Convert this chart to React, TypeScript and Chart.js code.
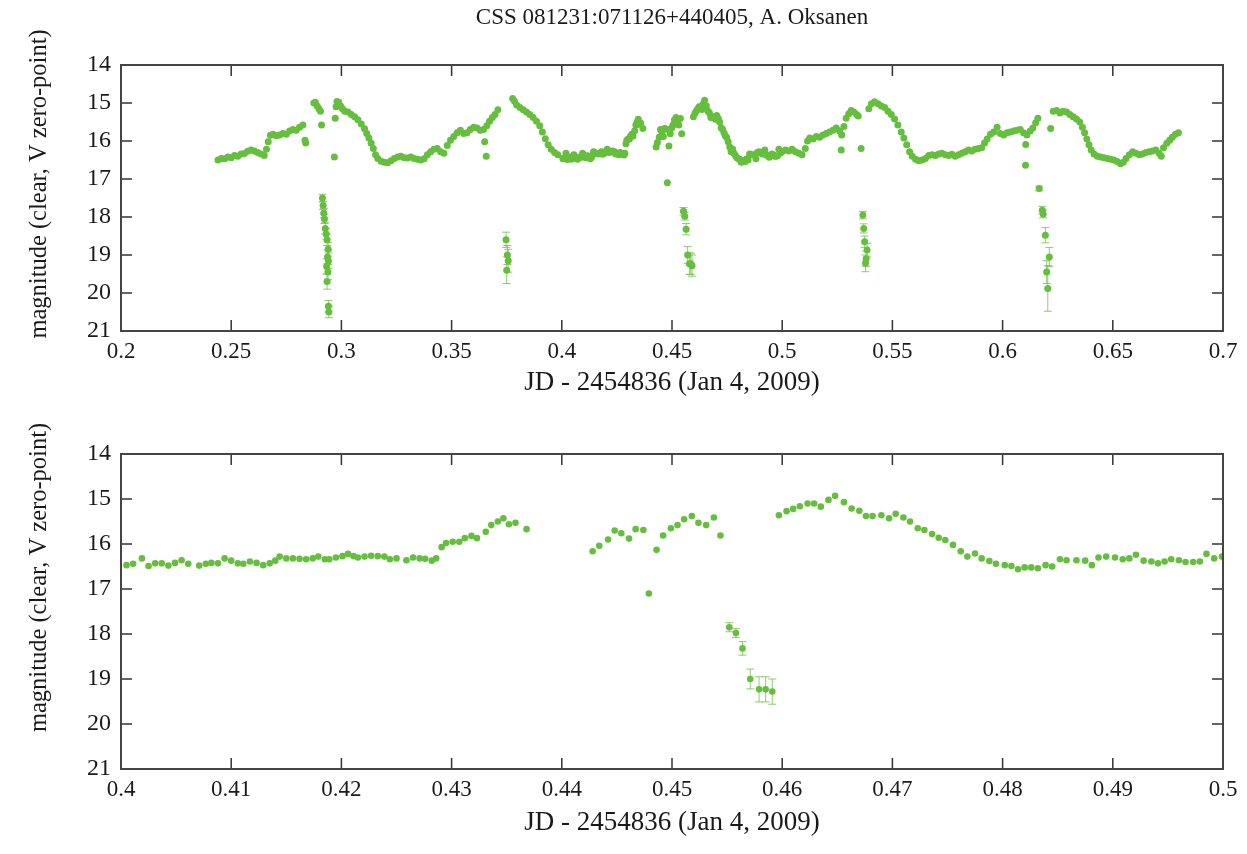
import React, { useEffect, useRef } from 'react';
import { Chart, registerables } from 'chart.js';

Chart.register(...registerables);

const TITLE = 'CSS 081231:071126+440405, A. Oksanen';
const X_TITLE = 'JD - 2454836 (Jan 4, 2009)';
const Y_TITLE = 'magnitude (clear, V zero-point)';

// [JD - 2454836, magnitude]  (top panel, before 0.40)
const topEarly: number[][] = [
  [0.2440,16.50],[0.2455,16.46],[0.2470,16.47],[0.2485,16.42],[0.2500,16.44],[0.2515,16.38],[0.2530,16.40],[0.2545,16.34],
  [0.2560,16.33],[0.2575,16.27],[0.2590,16.24],[0.2605,16.26],[0.2620,16.30],[0.2635,16.34],[0.2650,16.38],[0.2660,16.22],
  [0.2668,16.02],[0.2678,15.85],[0.2690,15.82],[0.2705,15.86],[0.2720,15.84],[0.2735,15.80],[0.2750,15.82],[0.2765,15.74],
  [0.2780,15.70],[0.2795,15.72],[0.2810,15.64],[0.2825,15.58],[0.2835,15.98],[0.2838,16.05],[0.2875,15.00],[0.2882,14.98],
  [0.2890,15.08],[0.2898,15.15],[0.2905,15.22],[0.2910,15.58],[0.2968,16.42],[0.2972,15.40],[0.2976,15.10],[0.2980,14.96],
  [0.2988,14.98],[0.2996,15.08],[0.3005,15.15],[0.3015,15.22],[0.3030,15.24],[0.3045,15.30],[0.3060,15.36],[0.3075,15.44],
  [0.3090,15.55],[0.3105,15.68],[0.3115,15.80],[0.3125,15.92],[0.3135,16.06],[0.3145,16.20],[0.3155,16.36],[0.3165,16.46],
  [0.3180,16.53],[0.3195,16.56],[0.3210,16.57],[0.3225,16.52],[0.3240,16.46],[0.3255,16.42],[0.3270,16.40],[0.3285,16.44],
  [0.3300,16.45],[0.3315,16.42],[0.3330,16.46],[0.3345,16.48],[0.3360,16.50],[0.3375,16.47],[0.3390,16.36],[0.3405,16.28],
  [0.3420,16.22],[0.3435,16.20],[0.3450,16.28],[0.3465,16.32],[0.3480,16.12],[0.3495,15.98],[0.3510,15.88],[0.3525,15.78],
  [0.3540,15.72],[0.3555,15.80],[0.3570,15.78],[0.3585,15.70],[0.3600,15.64],[0.3615,15.66],[0.3630,15.72],[0.3645,15.70],
  [0.3650,16.02],[0.3657,16.40],[0.3660,15.60],[0.3672,15.48],[0.3685,15.38],[0.3697,15.30],[0.3710,15.18],[0.3777,14.88],
  [0.3785,14.95],[0.3795,15.05],[0.3810,15.12],[0.3825,15.18],[0.3840,15.24],[0.3855,15.30],[0.3870,15.38],[0.3885,15.48],
  [0.3900,15.60],[0.3912,15.76],[0.3925,15.94],[0.3938,16.10],[0.3952,16.22],[0.3967,16.30],[0.3982,16.36],
];

// [JD - 2454836, magnitude]  (0.40 - 0.50, shown in both panels)
const zoomMain: number[][] = [
  [0.4005,16.47],[0.4011,16.44],[0.4019,16.32],[0.4025,16.49],[0.4031,16.43],[0.4037,16.43],[0.4043,16.48],[0.4049,16.42],
  [0.4055,16.36],[0.4061,16.44],[0.4071,16.48],[0.4077,16.44],[0.4082,16.42],[0.4088,16.43],[0.4094,16.32],[0.4100,16.37],
  [0.4106,16.43],[0.4111,16.44],[0.4117,16.39],[0.4123,16.42],[0.4129,16.47],[0.4135,16.43],[0.4140,16.37],[0.4144,16.28],
  [0.4150,16.32],[0.4156,16.32],[0.4162,16.33],[0.4168,16.34],[0.4174,16.32],[0.4179,16.28],[0.4185,16.34],[0.4189,16.34],
  [0.4195,16.30],[0.4201,16.27],[0.4206,16.22],[0.4211,16.27],[0.4215,16.30],[0.4221,16.28],[0.4227,16.26],[0.4233,16.27],
  [0.4239,16.28],[0.4244,16.34],[0.4250,16.32],[0.4259,16.36],[0.4265,16.30],[0.4271,16.32],[0.4276,16.33],[0.4282,16.37],
  [0.4286,16.32],[0.4291,16.07],[0.4295,15.98],[0.4301,15.95],[0.4307,15.95],[0.4312,15.87],[0.4318,15.82],[0.4323,15.87],
  [0.4331,15.73],[0.4336,15.58],[0.4342,15.50],[0.4347,15.43],[0.4352,15.56],[0.4358,15.53],[0.4368,15.67],
  [0.4428,16.16],[0.4434,16.04],[0.4442,15.90],[0.4448,15.70],[0.4454,15.76],[0.4461,15.88],[0.4467,15.67],[0.4474,15.69],
  [0.4479,17.10],[0.4486,16.13],[0.4492,15.81],[0.4499,15.65],[0.4505,15.58],[0.4511,15.45],[0.4518,15.38],[0.4524,15.53],
  [0.4531,15.58],[0.4538,15.41],[0.4544,15.81],
  [0.4597,15.36],[0.4604,15.27],[0.4610,15.22],[0.4616,15.16],[0.4623,15.10],[0.4629,15.10],[0.4635,15.17],[0.4642,15.02],
  [0.4648,14.93],[0.4656,15.07],[0.4663,15.21],[0.4670,15.26],[0.4676,15.38],[0.4682,15.38],[0.4690,15.36],[0.4697,15.43],
  [0.4703,15.33],[0.4710,15.41],[0.4716,15.50],[0.4723,15.65],[0.4729,15.69],[0.4736,15.78],[0.4742,15.86],[0.4748,15.91],
  [0.4755,16.02],[0.4762,16.16],[0.4768,16.28],[0.4775,16.21],[0.4781,16.32],[0.4788,16.38],[0.4794,16.44],[0.4802,16.47],
  [0.4808,16.49],[0.4814,16.56],[0.4820,16.52],[0.4826,16.52],[0.4832,16.54],[0.4839,16.47],[0.4845,16.50],[0.4852,16.34],
  [0.4858,16.36],[0.4867,16.36],[0.4875,16.37],[0.4881,16.47],[0.4887,16.30],[0.4894,16.28],[0.4902,16.30],[0.4909,16.34],
  [0.4915,16.32],[0.4921,16.24],[0.4928,16.37],[0.4935,16.39],[0.4941,16.43],[0.4947,16.39],[0.4953,16.34],[0.4960,16.36],
  [0.4966,16.40],[0.4973,16.40],[0.4979,16.39],[0.4985,16.22],[0.4992,16.32],[0.4999,16.28],
];

// [JD - 2454836, magnitude]  (top panel, after 0.50)
const topLate: number[][] = [
  [0.5015,16.24],[0.5030,16.26],[0.5045,16.22],[0.5060,16.28],[0.5075,16.32],[0.5090,16.36],[0.5105,16.20],[0.5115,16.00],
  [0.5125,15.92],[0.5140,15.95],[0.5155,15.88],[0.5170,15.90],[0.5185,15.84],[0.5200,15.80],[0.5215,15.76],[0.5230,15.72],
  [0.5245,15.66],[0.5260,15.74],[0.5270,15.84],[0.5268,16.24],[0.5280,15.62],[0.5290,15.40],[0.5302,15.28],[0.5313,15.20],
  [0.5325,15.24],[0.5338,15.30],[0.5345,15.34],[0.5358,16.20],[0.5393,15.15],[0.5405,15.02],[0.5419,14.97],[0.5435,15.02],
  [0.5450,15.08],[0.5465,15.12],[0.5480,15.22],[0.5495,15.30],[0.5510,15.42],[0.5525,15.58],[0.5540,15.76],[0.5552,15.92],
  [0.5565,16.10],[0.5578,16.28],[0.5590,16.40],[0.5605,16.48],[0.5620,16.52],[0.5635,16.50],[0.5650,16.46],[0.5665,16.38],
  [0.5680,16.36],[0.5695,16.38],[0.5710,16.34],[0.5725,16.32],[0.5740,16.36],[0.5755,16.38],[0.5770,16.35],[0.5785,16.40],
  [0.5800,16.36],[0.5815,16.32],[0.5830,16.28],[0.5845,16.24],[0.5860,16.26],[0.5875,16.22],[0.5890,16.20],[0.5905,16.18],
  [0.5918,16.05],[0.5930,15.95],[0.5945,15.82],[0.5960,15.76],[0.5975,15.64],[0.5990,15.80],[0.6005,15.84],[0.6020,15.78],
  [0.6035,15.76],[0.6050,15.74],[0.6065,15.72],[0.6080,15.70],[0.6095,15.78],[0.6105,16.09],[0.6104,16.64],[0.6110,15.84],
  [0.6125,15.74],[0.6137,15.66],[0.6150,15.52],[0.6160,15.40],[0.6218,15.67],[0.6230,15.22],[0.6245,15.20],[0.6260,15.26],
  [0.6275,15.22],[0.6290,15.24],[0.6305,15.30],[0.6320,15.36],[0.6335,15.42],[0.6350,15.50],[0.6362,15.64],[0.6372,15.78],
  [0.6382,15.95],[0.6392,16.10],[0.6402,16.24],[0.6415,16.34],[0.6430,16.40],[0.6445,16.42],[0.6460,16.44],[0.6475,16.46],
  [0.6490,16.48],[0.6505,16.50],[0.6520,16.54],[0.6535,16.60],[0.6548,16.56],[0.6560,16.46],[0.6575,16.36],[0.6590,16.28],
  [0.6605,16.32],[0.6620,16.36],[0.6635,16.34],[0.6650,16.30],[0.6665,16.28],[0.6680,16.26],[0.6695,16.24],[0.6710,16.32],
  [0.6720,16.40],[0.6730,16.18],[0.6745,16.06],[0.6758,15.98],[0.6770,15.90],[0.6784,15.82],[0.6798,15.78],
];

// eclipse points: [JD - 2454836, magnitude, error]
const dip1: number[][] = [
  [0.2914,17.50,0.10],[0.2917,17.70,0.10],[0.2920,17.90,0.12],[0.2923,18.05,0.12],[0.2927,18.30,0.15],[0.2931,18.45,0.15],
  [0.2935,18.60,0.15],[0.2940,18.85,0.18],[0.2937,19.05,0.18],[0.2941,19.15,0.20],[0.2933,19.30,0.20],[0.2939,19.45,0.20],
  [0.2935,19.70,0.20],[0.2941,20.35,0.15],[0.2943,20.50,0.15],
];
const dip2: number[][] = [
  [0.3747,18.60,0.20],[0.3753,19.00,0.25],[0.3757,19.15,0.30],[0.3750,19.40,0.35],
];
const zoomDip: number[][] = [
  [0.4552,17.85,0.10],[0.4558,17.98,0.10],[0.4564,18.32,0.15],[0.4571,19.00,0.22],[0.4579,19.23,0.28],[0.4585,19.23,0.28],
  [0.4591,19.28,0.28],
];
const dip4: number[][] = [
  [0.5366,17.95,0.10],[0.5370,18.30,0.12],[0.5374,18.65,0.15],[0.5385,18.87,0.18],[0.5381,19.10,0.20],[0.5378,19.22,0.22],
];
const dip5: number[][] = [
  [0.6166,17.25,0.06],[0.6180,17.82,0.10],[0.6184,17.92,0.10],[0.6194,18.48,0.20],[0.6212,19.05,0.25],[0.6200,19.45,0.30],
  [0.6205,19.88,0.60],
];

const topXTicks = [0.2, 0.25, 0.3, 0.35, 0.4, 0.45, 0.5, 0.55, 0.6, 0.65, 0.7];
const topXLabels = ['0.2', '0.25', '0.3', '0.35', '0.4', '0.45', '0.5', '0.55', '0.6', '0.65', '0.7'];
const zoomXTicks = [0.4, 0.41, 0.42, 0.43, 0.44, 0.45, 0.46, 0.47, 0.48, 0.49, 0.5];
const zoomXLabels = ['0.4', '0.41', '0.42', '0.43', '0.44', '0.45', '0.46', '0.47', '0.48', '0.49', '0.5'];
const magTicks = [14, 15, 16, 17, 18, 19, 20, 21];
const magLabels = ['14', '15', '16', '17', '18', '19', '20', '21'];

const GREEN = 'rgb(102,190,62)';
const ERR_GREEN = 'rgba(102,190,62,0.75)';
const FONT = "'Liberation Serif', 'DejaVu Serif', serif";
const TEXT = '#1a1a1a';

const framePlugin = {
  id: 'frameTicks',
  afterDraw(chart: any) {
    const { ctx, chartArea: a, scales } = chart;
    ctx.save();
    ctx.strokeStyle = '#333';
    ctx.lineWidth = 1.5;
    const L = 11;
    const seg = (x1: number, y1: number, x2: number, y2: number) => {
      ctx.beginPath();
      ctx.moveTo(x1, y1);
      ctx.lineTo(x2, y2);
      ctx.stroke();
    };
    scales.x.ticks.forEach((t: any) => {
      const px = scales.x.getPixelForValue(t.value);
      if (px <= a.left + 1 || px >= a.right - 1) return;
      seg(px, a.bottom, px, a.bottom - L);
      seg(px, a.top, px, a.top + L);
    });
    scales.y.ticks.forEach((t: any) => {
      const py = scales.y.getPixelForValue(t.value);
      if (py <= a.top + 1 || py >= a.bottom - 1) return;
      seg(a.left, py, a.left + L, py);
      seg(a.right, py, a.right - L, py);
    });
    ctx.strokeStyle = '#444';
    ctx.lineWidth = 2;
    ctx.strokeRect(a.left, a.top, a.right - a.left, a.bottom - a.top);
    ctx.restore();
  },
};

// vertical axis title, drawn on the y scale's own area
const yTitlePlugin = {
  id: 'yTitle',
  afterDraw(chart: any, _args: any, opts: any) {
    const { ctx, chartArea: a } = chart;
    const cy = (a.top + a.bottom) / 2 + (opts.shift || 0);
    ctx.save();
    ctx.translate(opts.x, cy);
    ctx.rotate(-Math.PI / 2);
    ctx.fillStyle = TEXT;
    ctx.font = `${opts.size}px ${FONT}`;
    ctx.textAlign = 'center';
    ctx.textBaseline = 'middle';
    ctx.fillText(opts.text, 0, 0);
    ctx.restore();
  },
};

const errorBarPlugin = {
  id: 'errorBars',
  beforeDatasetsDraw(chart: any) {
    const { ctx, scales } = chart;
    ctx.save();
    ctx.strokeStyle = ERR_GREEN;
    ctx.lineWidth = 1;
    chart.data.datasets.forEach((ds: any, i: number) => {
      if (!ds.errorBars) return;
      const meta = chart.getDatasetMeta(i);
      ds.data.forEach((d: any, j: number) => {
        const p = meta.data[j];
        if (!p) return;
        const x = p.x;
        const y1 = scales.y.getPixelForValue(d.y - d.e);
        const y2 = scales.y.getPixelForValue(d.y + d.e);
        ctx.beginPath();
        ctx.moveTo(x, y1);
        ctx.lineTo(x, y2);
        ctx.moveTo(x - 4, y1);
        ctx.lineTo(x + 4, y1);
        ctx.moveTo(x - 4, y2);
        ctx.lineTo(x + 4, y2);
        ctx.stroke();
      });
    });
    ctx.restore();
  },
};

const toXY = (rows: number[][]) => rows.map((r) => ({ x: r[0], y: r[1] }));
const toXYE = (rows: number[][]) => rows.map((r) => ({ x: r[0], y: r[1], e: r[2] }));

function makeConfig(panel: 'top' | 'zoom'): any {
  const isTop = panel === 'top';
  const main = isTop ? [...topEarly, ...zoomMain, ...topLate] : zoomMain;
  const dips = isTop ? [...dip1, ...dip2, ...zoomDip, ...dip4, ...dip5] : zoomDip;
  const xt = isTop ? topXTicks : zoomXTicks;
  const xl = isTop ? topXLabels : zoomXLabels;
  const r = isTop ? 3.5 : 3.3;
  return {
    type: 'scatter',
    data: {
      datasets: [
        {
          data: toXY(main),
          backgroundColor: GREEN,
          borderWidth: 0,
          pointRadius: r,
          pointHoverRadius: r,
        },
        {
          data: toXYE(dips),
          errorBars: true,
          backgroundColor: GREEN,
          borderWidth: 0,
          pointRadius: r,
          pointHoverRadius: r,
        },
      ],
    },
    options: {
      responsive: false,
      animation: false,
      events: [],
      layout: { padding: { top: isTop ? 0 : 34, right: 24, left: 0, bottom: 0 } },
      plugins: {
        legend: { display: false },
        tooltip: { enabled: false },
        title: {
          display: isTop,
          fullSize: false,
          text: TITLE,
          color: TEXT,
          font: { family: FONT, size: 23, weight: 'normal' },
          padding: { top: 4.2, bottom: 33.2 },
        },
        yTitle: { text: Y_TITLE, size: 24.5, x: 40, shift: isTop ? -14 : -34 },
      },
      scales: {
        x: {
          type: 'linear',
          min: xt[0],
          max: xt[xt.length - 1],
          grid: { display: false, drawTicks: false },
          border: { display: false },
          afterBuildTicks: (s: any) => {
            s.ticks = xt.map((v) => ({ value: v }));
          },
          afterFit: (s: any) => {
            s.height = isTop ? 89 : 85;
          },
          ticks: {
            autoSkip: false,
            maxRotation: 0,
            padding: 7.5,
            color: TEXT,
            font: { family: FONT, size: 23 },
            callback: (_v: any, i: number) => xl[i],
          },
          title: {
            display: true,
            text: X_TITLE,
            color: TEXT,
            font: { family: FONT, size: 27 },
            padding: { top: 0, bottom: isTop ? 21 : 15 },
          },
        },
        y: {
          type: 'linear',
          reverse: true,
          min: 14,
          max: 21,
          grid: { display: false, drawTicks: false },
          border: { display: false },
          afterBuildTicks: (s: any) => {
            s.ticks = magTicks.map((v) => ({ value: v }));
          },
          afterFit: (s: any) => {
            s.width = 121;
          },
          ticks: {
            autoSkip: false,
            padding: 10,
            color: TEXT,
            font: { family: FONT, size: 24 },
            callback: (_v: any, i: number) => magLabels[i],
          },
          title: { display: false },
        },
      },
    },
    plugins: [errorBarPlugin, framePlugin, yTitlePlugin],
  };
}

function Panel({ panel, top, height }: { panel: 'top' | 'zoom'; top: number; height: number }) {
  const ref = useRef<HTMLCanvasElement | null>(null);
  useEffect(() => {
    if (!ref.current) return;
    const chart = new Chart(ref.current, makeConfig(panel));
    return () => chart.destroy();
  }, [panel]);
  return (
    <canvas
      ref={ref}
      width={1247}
      height={height}
      style={{ position: 'absolute', left: 0, top, width: 1247, height, display: 'block' }}
    />
  );
}

export default function App() {
  return (
    <div
      style={{
        position: 'absolute',
        left: 0,
        top: 0,
        width: 1247,
        height: 854,
        background: '#ffffff',
        overflow: 'hidden',
      }}
    >
      <Panel panel="top" top={0} height={420} />
      <Panel panel="zoom" top={420} height={434} />
    </div>
  );
}
